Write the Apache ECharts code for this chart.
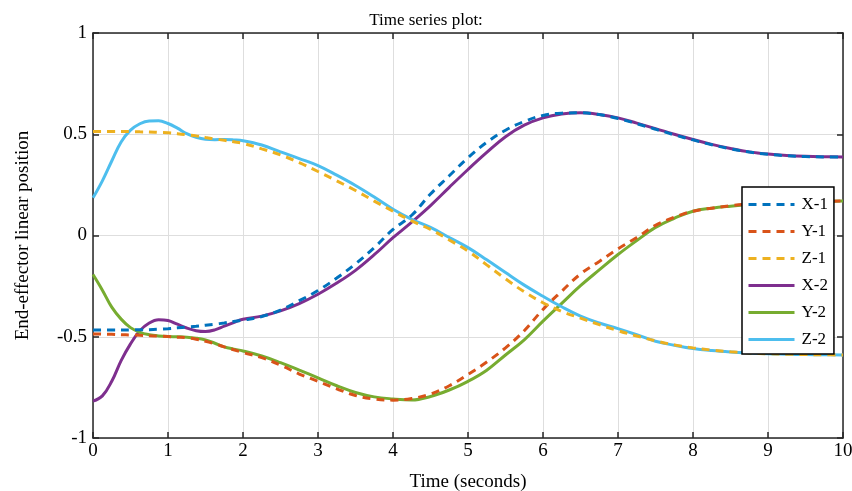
<!DOCTYPE html>
<html>
<head>
<meta charset="utf-8">
<script src="https://cdn.jsdelivr.net/npm/echarts@6/dist/echarts.min.js"></script>
<style>
html,body{margin:0;padding:0;background:#fff;}
#chart{width:852px;height:491px;}
</style>
</head>
<body>
<div id="chart"></div>
<script>
const time = [0,0.125,0.25,0.375,0.5,0.625,0.75,0.875,1,1.125,1.25,1.375,1.5,1.625,1.75,1.875,2,
  2.25,2.5,2.75,3,3.25,3.5,3.75,4,4.25,4.5,4.75,5,5.25,5.5,5.75,6,6.25,6.5,6.75,7,7.25,7.5,7.75,8,8.25,8.5,8.75,9,9.25,9.5,9.75,10];
const x1 = [-0.467,-0.467,-0.467,-0.467,-0.466,-0.466,-0.465,-0.463,-0.46,-0.456,-0.452,-0.448,-0.443,-0.438,-0.432,-0.425,-0.418,
  -0.4,-0.368,-0.322,-0.272,-0.21,-0.14,-0.06,0.03,0.1,0.205,0.295,0.384,0.46,0.52,0.563,0.593,0.604,0.606,0.597,0.578,0.552,0.525,0.497,0.472,0.448,0.428,0.412,0.401,0.394,0.39,0.388,0.387];
const y1 = [-0.486,-0.487,-0.488,-0.49,-0.491,-0.493,-0.495,-0.497,-0.499,-0.502,-0.505,-0.512,-0.522,-0.535,-0.55,-0.564,-0.578,
  -0.603,-0.64,-0.684,-0.72,-0.757,-0.79,-0.807,-0.813,-0.805,-0.783,-0.742,-0.686,-0.625,-0.555,-0.47,-0.365,-0.275,-0.19,-0.128,-0.066,-0.01,0.05,0.09,0.12,0.135,0.147,0.155,0.16,0.164,0.167,0.169,0.17];
const z1 = [0.514,0.514,0.514,0.514,0.513,0.512,0.511,0.509,0.507,0.503,0.498,0.492,0.484,0.477,0.47,0.463,0.455,
  0.428,0.398,0.36,0.316,0.27,0.222,0.17,0.12,0.072,0.03,-0.022,-0.077,-0.145,-0.214,-0.278,-0.332,-0.375,-0.408,-0.44,-0.47,-0.496,-0.52,-0.54,-0.555,-0.566,-0.574,-0.58,-0.584,-0.586,-0.588,-0.589,-0.59];
const x2 = [-0.818,-0.792,-0.72,-0.618,-0.535,-0.47,-0.432,-0.416,-0.42,-0.438,-0.457,-0.47,-0.474,-0.466,-0.448,-0.43,-0.414,
  -0.398,-0.372,-0.336,-0.29,-0.235,-0.172,-0.095,-0.011,0.066,0.148,0.238,0.326,0.41,0.488,0.545,0.581,0.6,0.606,0.598,0.581,0.555,0.528,0.5,0.474,0.45,0.43,0.413,0.402,0.395,0.391,0.389,0.388];
const y2 = [-0.193,-0.27,-0.354,-0.413,-0.455,-0.478,-0.49,-0.496,-0.499,-0.5,-0.502,-0.507,-0.516,-0.532,-0.55,-0.561,-0.57,
  -0.595,-0.628,-0.665,-0.703,-0.742,-0.775,-0.797,-0.807,-0.812,-0.795,-0.763,-0.72,-0.665,-0.59,-0.515,-0.423,-0.335,-0.248,-0.17,-0.094,-0.025,0.04,0.085,0.12,0.135,0.145,0.153,0.16,0.164,0.167,0.169,0.17];
const z2 = [0.186,0.27,0.368,0.462,0.52,0.552,0.566,0.567,0.553,0.53,0.503,0.485,0.475,0.473,0.474,0.472,0.468,
  0.447,0.413,0.38,0.345,0.298,0.247,0.19,0.13,0.08,0.04,-0.01,-0.06,-0.12,-0.183,-0.245,-0.3,-0.352,-0.398,-0.432,-0.46,-0.49,-0.522,-0.542,-0.558,-0.568,-0.575,-0.58,-0.584,-0.586,-0.588,-0.589,-0.59];

const names = ['X-1','Y-1','Z-1','X-2','Y-2','Z-2'];
const colors = ['#0072BD','#D95319','#EDB120','#7E2F8E','#77AC30','#4DBEEE'];
const values = [x1,y1,z1,x2,y2,z2];
const dashed = [true,true,true,false,false,false];

const font = 'Liberation Serif';
const axisColor = '#262626';

const chart = echarts.init(document.getElementById('chart'));
const series = values.map((arr,k)=>({
  name: names[k],
  type: 'line',
  xAxisIndex: 0, yAxisIndex: 0,
  data: time.map((t,i)=>[t,arr[i]]),
  smooth: 0.4,
  symbol: 'none',
  showSymbol: false,
  lineStyle: {color: colors[k], width: 3, type: dashed[k] ? [8,6] : 'solid'},
  itemStyle: {color: colors[k]},
  z: dashed[k] ? 3 : 2
}));

chart.setOption({
  animation: false,
  backgroundColor: '#fff',
  title: {
    text: 'Time series plot:',
    left: 'center', top: 7,
    textStyle: {fontFamily: font, fontSize: 17, fontWeight: 'normal', color: '#000'}
  },
  grid: {left: 93, right: 9, top: 33, bottom: 53, containLabel: false, outerBoundsMode: 'none'},
  legend: {
    orient: 'vertical',
    left: 742, top: 187,
    data: names,
    itemWidth: 46, itemHeight: 14, itemGap: 10,
    padding: [9,6,6,5],
    borderColor: '#000', borderWidth: 1.5,
    backgroundColor: '#fff',
    itemStyle: {opacity: 0},
    lineStyle: {width: 3},
    textStyle: {fontFamily: font, fontSize: 17, color: '#000', padding: [0,0,0,2]}
  },
  xAxis: [{
    type: 'value', min: 0, max: 10, interval: 1,
    name: 'Time (seconds)', nameLocation: 'middle', nameGap: 35,
    nameTextStyle: {fontFamily: font, fontSize: 19, color: '#000'},
    axisLine: {show: true, onZero: false, lineStyle: {color: axisColor, width: 1.5}},
    axisTick: {show: true, inside: true, length: 6, lineStyle: {color: axisColor, width: 1.5}},
    axisLabel: {fontFamily: font, fontSize: 19, color: '#000', margin: 4},
    splitLine: {show: true, lineStyle: {color: '#dedede', width: 1}}
  },{
    type: 'value', min: 0, max: 10, interval: 1, position: 'top',
    axisLine: {show: true, onZero: false, lineStyle: {color: axisColor, width: 1.5}},
    axisTick: {show: true, inside: true, length: 6, lineStyle: {color: axisColor, width: 1.5}},
    axisLabel: {show: false}, splitLine: {show: false}
  }],
  yAxis: [{
    type: 'value', min: -1, max: 1, interval: 0.5,
    name: 'End-effector linear position', nameLocation: 'middle', nameGap: 60,
    nameTextStyle: {fontFamily: font, fontSize: 19, color: '#000'},
    axisLine: {show: true, onZero: false, lineStyle: {color: axisColor, width: 1.5}},
    axisTick: {show: true, inside: true, length: 6, lineStyle: {color: axisColor, width: 1.5}},
    axisLabel: {fontFamily: font, fontSize: 19, color: '#000', margin: 6},
    splitLine: {show: true, lineStyle: {color: '#dedede', width: 1}}
  },{
    type: 'value', min: -1, max: 1, interval: 0.5, position: 'right',
    axisLine: {show: true, onZero: false, lineStyle: {color: axisColor, width: 1.5}},
    axisTick: {show: true, inside: true, length: 6, lineStyle: {color: axisColor, width: 1.5}},
    axisLabel: {show: false}, splitLine: {show: false}
  }],
  series: series
});
</script>
</body>
</html>
